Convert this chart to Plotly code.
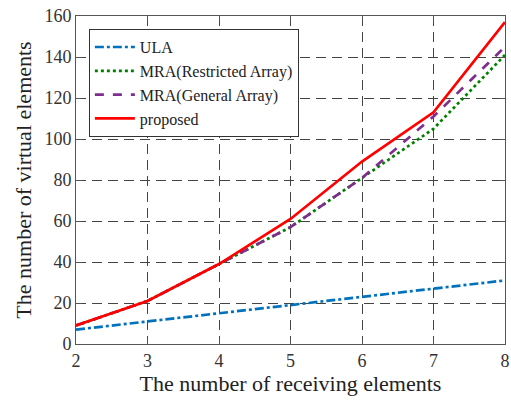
import plotly.graph_objects as go

x_vals = [2, 3, 4, 5, 6, 7, 8]
ula = [7, 11, 15, 19, 23, 27, 31]
mra_restricted = [9, 21, 39, 57, 81, 105, 141]
mra_general = [9, 21, 39, 57, 81, 111, 145]
proposed = [9, 21, 39, 61, 89, 113, 157]

names = ["ULA", "MRA(Restricted Array)", "MRA(General Array)", "proposed"]
colors = ["#0072BD", "#008000", "#7E2F8E", "#FF0000"]
dashes = ["dashdot", "dot", "dash", "solid"]
series = [ula, mra_restricted, mra_general, proposed]

fig = go.Figure()
for n, c, d, s in zip(names, colors, dashes, series):
    fig.add_trace(go.Scatter(x=x_vals, y=s, mode="lines", name=n,
                             line=dict(color=c, dash=d, width=2.7)))

font = "Liberation Serif, Times New Roman, serif"
axis_common = dict(
    showgrid=True, gridcolor="#444444", griddash="10px,6px", gridwidth=1,
    showline=True, linecolor="#555555", linewidth=1, mirror="ticks",
    ticks="inside", ticklen=5, tickcolor="#555555",
    tickfont=dict(family=font, size=18, color="#333333"),
    zeroline=False, automargin=False, ticklabeloverflow="allow",
)
fig.update_layout(
    width=511, height=401,
    margin=dict(l=76, r=6, t=16, b=57),
    paper_bgcolor="white", plot_bgcolor="white",
    showlegend=True,
    legend=dict(x=0.03, y=0.96, xanchor="left", yanchor="top",
                bgcolor="white", bordercolor="#333333", borderwidth=1,
                font=dict(family=font, size=16, color="#222222"),
                tracegroupgap=0, itemwidth=40),
    xaxis=dict(range=[2, 8], dtick=1,
               title=dict(text="The number of receiving elements",
                          font=dict(family=font, size=22, color="#222222"),
                          standoff=2),
               **axis_common),
    yaxis=dict(range=[0, 160], dtick=20,
               title=dict(text="The number of virtual elements",
                          font=dict(family=font, size=22, color="#222222"),
                          standoff=6),
               **axis_common),
)
fig.write_html("out.html",
               config={"displayModeBar": False},
               post_script="document.body.style.margin='0';document.body.style.overflow='hidden';")
